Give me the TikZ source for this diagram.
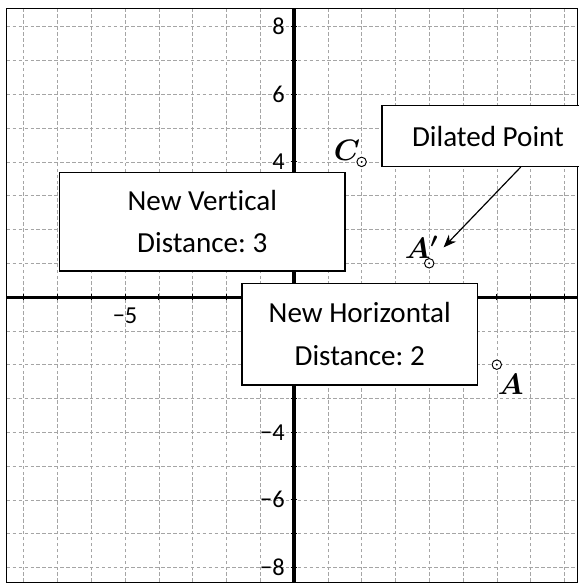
\documentclass[tikz,border=0pt]{standalone}
\usepackage{fontspec}
\setmainfont{Carlito}[Ligatures=NoCommon]
\usepackage{bm}
\usetikzlibrary{arrows.meta,positioning,calc}
\definecolor{gridgray}{RGB}{165,165,165}
\frenchspacing

\begin{document}
\begin{tikzpicture}[
gridline/.style={draw=gridgray, densely dashed, line width=0.4pt},
axisline/.style={draw=black, line width=2.6pt},
tickmark/.style={draw=black, line width=0.8pt},
ticklabel/.style={font=\fontsize{20.5}{22}\selectfont, inner sep=2pt},
infobox/.style={draw=black, line width=1.2pt, fill=white, align=center,
font=\fontsize{24.5}{35.5}\selectfont},
ptmark/.style={circle, draw=black, line width=0.8pt, fill=white,
minimum size=0.28cm, inner sep=0pt},
ptlabel/.style={font=\fontsize{25}{27}\selectfont, inner sep=1pt},
arrow/.style={-{Stealth[length=3.8mm, width=3mm]}, line width=1pt}
]
\useasboundingbox (-8.70,-8.46) rectangle (8.43,8.79);

% grid and frame
\begin{scope}
\clip (-8.5,-8.43) rectangle (8.37,8.55);
\foreach \k in {-8,...,8} {
  \draw[gridline] (\k,-8.43) -- (\k,8.55);
  \draw[gridline] (-8.5,\k) -- (8.37,\k);
}
\end{scope}
\draw[line width=0.6pt] (-8.5,-8.43) rectangle (8.37,8.55);

% axes
\draw[axisline] (-8.5,0) -- (8.37,0);
\draw[axisline] (0,-8.43) -- (0,8.55);
\foreach \k in {-8,...,-1,1,2,...,8} {
  \draw[tickmark] (\k,-0.1) -- (\k,0.1);
  \draw[tickmark] (-0.1,\k) -- (0.1,\k);
}
\foreach \k/\t in {8/8,6/6,4/4,-4/−4,-6/−6,-8/−8}
  \node[ticklabel, anchor=east] (ty\k) at (-0.2,\k) {\t};
\node[ticklabel, anchor=north] (tx-5) at (-5,-0.25) {−5};

% text boxes
\node[infobox, minimum width=8.45cm, minimum height=2.92cm] (vert) at (-2.715,2.23)
{New Vertical\\Distance: 3};
\node[infobox, minimum width=6.97cm, minimum height=3.01cm] (horiz) at (1.945,-1.095)
{New Horizontal\\Distance: 2};
\node[infobox, minimum width=6.28cm, minimum height=1.79cm] (dil) at (5.74,4.765)
{Dilated Point};

% points
\node[ptmark] (c) at (2,4) {};
\node[ptmark] (ap) at (4,1) {};
\node[ptmark] (a) at (6,-2) {};
\foreach \p in {c,ap,a}
  \fill (\p.center) circle (0.03);

\node[ptlabel] (clab) at (1.57,4.33) {$\bm{C}$};
\node[ptlabel] (aplab) at (3.77,1.47) {$\bm{A'}$};
\node[ptlabel] (alab) at (6.41,-2.57) {$\bm{A}$};

\draw[arrow] ([xshift=0.97cm]dil.south) -- ([xshift=0.12cm]aplab.east);

\end{tikzpicture}
\end{document}
